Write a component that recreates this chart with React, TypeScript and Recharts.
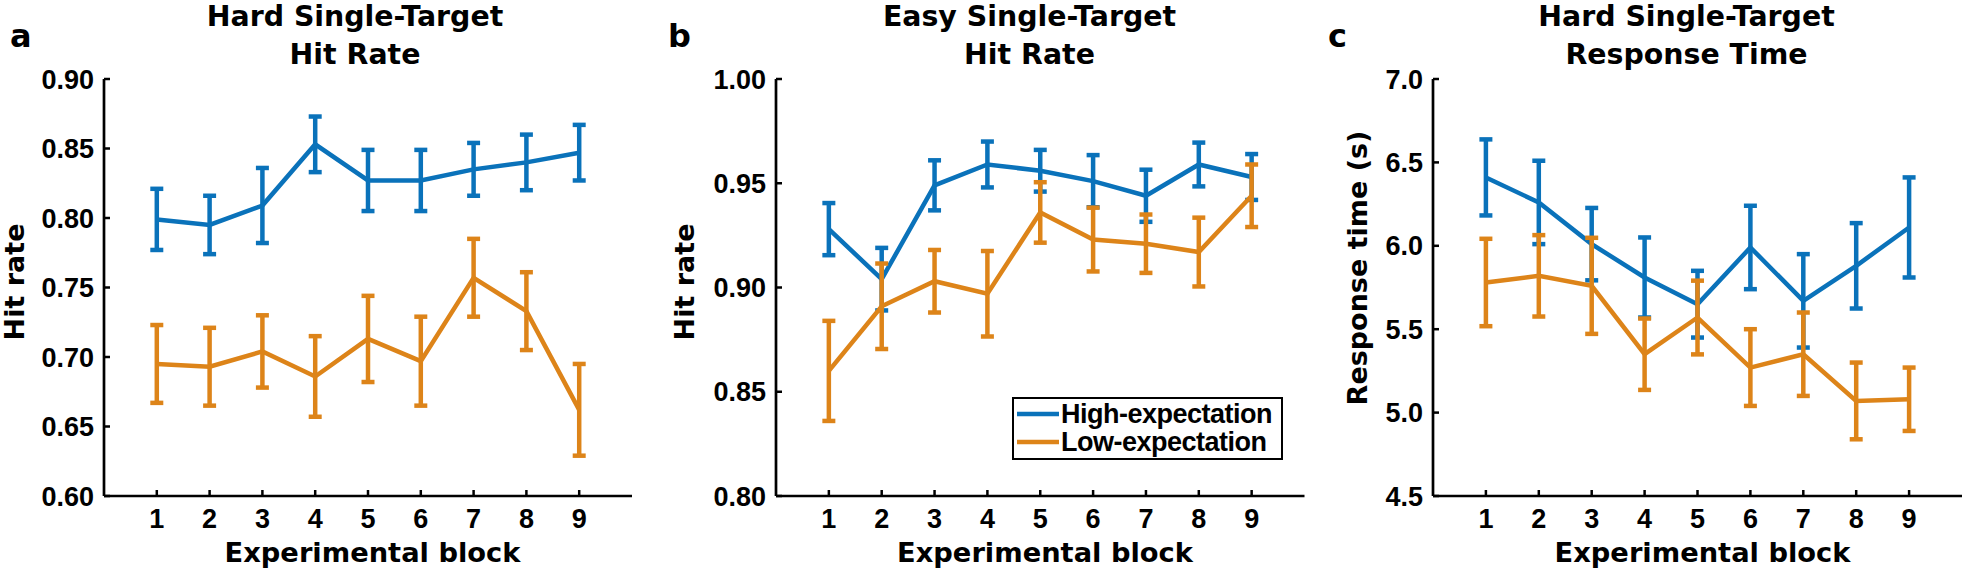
import React from 'react';
import { LineChart, Line, XAxis, YAxis, ErrorBar, Legend } from 'recharts';

// Blocs expérimentaux
const blocks = [1, 2, 3, 4, 5, 6, 7, 8, 9];
const xTicks = [1, 2, 3, 4, 5, 6, 7, 8, 9];

// a - Hard single-target hit rate
const hardHitHigh = [0.799, 0.795, 0.809, 0.853, 0.827, 0.827, 0.835, 0.840, 0.847];
const hardHitHighErr = [0.022, 0.021, 0.027, 0.020, 0.022, 0.022, 0.019, 0.020, 0.020];
const hardHitLow = [0.695, 0.693, 0.704, 0.686, 0.713, 0.697, 0.757, 0.733, 0.662];
const hardHitLowErr = [0.028, 0.028, 0.026, 0.029, 0.031, 0.032, 0.028, 0.028, 0.033];
const hardHitTicks = [0.6, 0.65, 0.7, 0.75, 0.8, 0.85, 0.9];

// b - Easy single-target hit rate
const easyHitHigh = [0.928, 0.904, 0.949, 0.959, 0.956, 0.951, 0.944, 0.959, 0.953];
const easyHitHighErr = [0.0125, 0.015, 0.012, 0.011, 0.010, 0.0125, 0.0125, 0.0105, 0.011];
const easyHitLow = [0.860, 0.891, 0.903, 0.897, 0.936, 0.923, 0.921, 0.917, 0.944];
const easyHitLowErr = [0.024, 0.0205, 0.015, 0.0205, 0.0145, 0.0153, 0.014, 0.0165, 0.015];
const easyHitTicks = [0.8, 0.85, 0.9, 0.95, 1.0];

// c - Hard single-target response time
const hardRtHigh = [6.41, 6.26, 6.01, 5.81, 5.65, 5.99, 5.67, 5.88, 6.11];
const hardRtHighErr = [0.228, 0.25, 0.217, 0.24, 0.20, 0.25, 0.28, 0.256, 0.30];
const hardRtLow = [5.78, 5.82, 5.76, 5.35, 5.57, 5.27, 5.35, 5.07, 5.08];
const hardRtLowErr = [0.262, 0.244, 0.288, 0.214, 0.221, 0.23, 0.25, 0.23, 0.19];
const hardRtTicks = [4.5, 5.0, 5.5, 6.0, 6.5, 7.0];

const BLUE = '#0A72BA';
const ORANGE = '#DD8419';
const TITLE_FONT = '"DejaVu Sans", sans-serif';
const TICK_FONT = '"Liberation Sans", Arial, sans-serif';

const Y_AXIS_W = 60;
const X_AXIS_H = 40;

const buildRows = (high: number[], highErr: number[], low: number[], lowErr: number[]) =>
  blocks.map((b, i) => ({ block: b, high: high[i], highErr: highErr[i], low: low[i], lowErr: lowErr[i] }));

interface PanelProps {
  left: number;
  plotLeft: number;
  marginRight: number;
  data: any[];
  domain: [number, number];
  ticks: number[];
  digits: number;
  showLegend?: boolean;
}

const LegendBox = ({ payload }: any) => (
  <div
    style={{
      border: '2px solid #000',
      background: '#fff',
      width: 264,
      height: 58,
      paddingTop: 1,
      paddingLeft: 3,
      fontFamily: TICK_FONT,
      fontWeight: 'bold',
      fontSize: 27,
      letterSpacing: -0.5,
      color: '#000',
    }}
  >
    {(payload || []).map((entry: any) => (
      <div key={entry.value} style={{ display: 'flex', alignItems: 'center', height: 28 }}>
        <svg width={44} height={28}>
          <line x1={0} y1={14} x2={42} y2={14} stroke={entry.color} strokeWidth={4.5} />
        </svg>
        <span style={{ lineHeight: '28px' }}>{entry.value}</span>
      </div>
    ))}
  </div>
);

const Panel: React.FC<PanelProps> = ({ left, plotLeft, marginRight, data, domain, ticks, digits, showLegend }) => (
  <div style={{ position: 'absolute', left, top: 0 }}>
    <LineChart
      width={656}
      height={572}
      data={data}
      margin={{ top: 79, right: marginRight, bottom: 76 - X_AXIS_H, left: plotLeft - Y_AXIS_W }}
    >
      <XAxis
        dataKey="block"
        type="number"
        domain={[0, 10]}
        ticks={xTicks}
        interval={0}
        height={X_AXIS_H}
        tickSize={-6}
        tickMargin={18.5}
        axisLine={{ stroke: '#000', strokeWidth: 2.7 }}
        tickLine={{ stroke: '#000', strokeWidth: 2.5 }}
        tick={{ fill: '#000', fontSize: 27, fontWeight: 'bold', fontFamily: TICK_FONT }}
      />
      <YAxis
        type="number"
        domain={domain}
        ticks={ticks}
        interval={0}
        width={Y_AXIS_W}
        tickSize={-6}
        tickMargin={16}
        tickFormatter={(v: number) => v.toFixed(digits)}
        axisLine={{ stroke: '#000', strokeWidth: 2.7 }}
        tickLine={{ stroke: '#000', strokeWidth: 2.5 }}
        tick={{ fill: '#000', fontSize: 27, fontWeight: 'bold', fontFamily: TICK_FONT }}
      />
      {showLegend && (
        <Legend
          layout="vertical"
          align="center"
          verticalAlign="middle"
          content={<LegendBox />}
          wrapperStyle={{ left: 356, top: 397, width: 'auto' }}
        />
      )}
      <Line
        dataKey="high"
        name="High-expectation"
        stroke={BLUE}
        strokeWidth={4.5}
        dot={false}
        isAnimationActive={false}
      >
        <ErrorBar dataKey="highErr" direction="y" width={6.5} stroke={BLUE} strokeWidth={4.5} isAnimationActive={false} />
      </Line>
      <Line
        dataKey="low"
        name="Low-expectation"
        stroke={ORANGE}
        strokeWidth={4.5}
        dot={false}
        isAnimationActive={false}
      >
        <ErrorBar dataKey="lowErr" direction="y" width={6.5} stroke={ORANGE} strokeWidth={4.5} isAnimationActive={false} />
      </Line>
    </LineChart>
  </div>
);

const titleStyle = { fontFamily: TITLE_FONT, fontWeight: 'bold' as const };

const Texts = () => (
  <svg width={1968} height={572} style={{ position: 'absolute', left: 0, top: 0 }}>
    <g style={titleStyle} fill="#000">
      {/* lettres des panneaux */}
      <text x={10} y={47} fontSize={32}>a</text>
      <text x={668} y={47} fontSize={32}>b</text>
      <text x={1328} y={47} fontSize={32}>c</text>

      {/* titres */}
      <text x={355} y={26} fontSize={28.4} textAnchor="middle">Hard Single-Target</text>
      <text x={355} y={64} fontSize={28.4} textAnchor="middle">Hit Rate</text>
      <text x={1029.5} y={26} fontSize={28.4} textAnchor="middle">Easy Single-Target</text>
      <text x={1029.5} y={64} fontSize={28.4} textAnchor="middle">Hit Rate</text>
      <text x={1686.5} y={26} fontSize={28.4} textAnchor="middle">Hard Single-Target</text>
      <text x={1686.5} y={64} fontSize={28.4} textAnchor="middle">Response Time</text>

      {/* axes */}
      <text x={372.5} y={562} fontSize={27.3} textAnchor="middle">Experimental block</text>
      <text x={1045} y={562} fontSize={27.3} textAnchor="middle">Experimental block</text>
      <text x={1702.5} y={562} fontSize={27.3} textAnchor="middle">Experimental block</text>
      <text x={24} y={282} fontSize={27} textAnchor="middle" transform="rotate(-90 24 282)">Hit rate</text>
      <text x={694} y={282} fontSize={27} textAnchor="middle" transform="rotate(-90 694 282)">Hit rate</text>
      <text x={1367} y={268} fontSize={27} textAnchor="middle" transform="rotate(-90 1367 268)">Response time (s)</text>
    </g>
  </svg>
);

export default function App() {
  return (
    <div style={{ position: 'absolute', left: 0, top: 0, width: 1968, height: 572, background: '#fff', overflow: 'hidden' }}>
      <Texts />
      <Panel
        left={0}
        plotLeft={104}
        marginRight={24}
        data={buildRows(hardHitHigh, hardHitHighErr, hardHitLow, hardHitLowErr)}
        domain={[0.6, 0.9]}
        ticks={hardHitTicks}
        digits={2}
      />
      <Panel
        left={656}
        plotLeft={120}
        marginRight={7.5}
        data={buildRows(easyHitHigh, easyHitHighErr, easyHitLow, easyHitLowErr)}
        domain={[0.8, 1.0]}
        ticks={easyHitTicks}
        digits={2}
        showLegend
      />
      <Panel
        left={1312}
        plotLeft={121}
        marginRight={6}
        data={buildRows(hardRtHigh, hardRtHighErr, hardRtLow, hardRtLowErr)}
        domain={[4.5, 7.0]}
        ticks={hardRtTicks}
        digits={1}
      />
    </div>
  );
}
